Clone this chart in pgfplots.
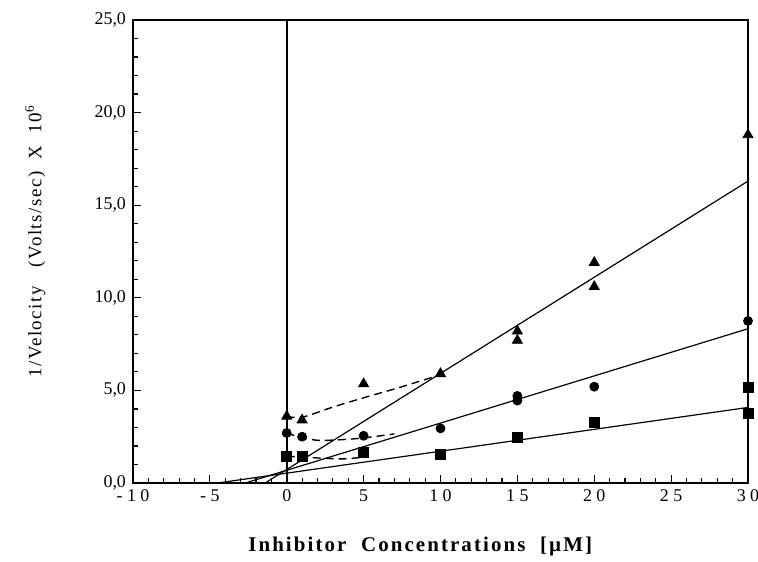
\documentclass[border=0pt]{standalone}
\usepackage{fontspec}
\setmainfont{Liberation Serif}
\usepackage{pgfplots}
\pgfplotsset{compat=1.18}

\begin{document}
\begin{tikzpicture}
\begin{axis}[
  scale only axis,
  width=307.5bp, height=231.5bp,
  xmin=-10, xmax=30, ymin=0, ymax=25,
  xtick={-10,-5,...,30},
  xticklabels={- 1 0,- 5,0,5,1 0,1 5,2 0,2 5,3 0},
  minor x tick num=4,
  ytick={0,5,...,25},
  minor y tick num=4,
  tick pos=left,
  tick align=inside,
  major tick length=4bp, minor tick length=2.5bp,
  axis line style={line width=0.9pt},
  tick style={black, line width=0.6pt},
  tick label style={font=\fontsize{9}{10}\selectfont},
  yticklabel style={/pgf/number format/use comma, /pgf/number format/fixed,
    /pgf/number format/fixed zerofill, /pgf/number format/precision=1,
    /pgf/number format/assume math mode=true},
  xlabel={\bfseries\addfontfeatures{LetterSpace=10}Inhibitor\ \ Concentrations\ \ [µM]},
  xlabel style={font=\fontsize{10.5}{12}\selectfont, at={(axis description cs:0.467,-0.138)}, anchor=center},
  ylabel={\addfontfeatures{LetterSpace=8}1/Velocity\ \ \ (Volts/sec)\ \ X\ \ 10\textsuperscript{6}},
  ylabel style={font=\fontsize{9.5}{11}\selectfont, at={(axis description cs:-0.159,0.522)}, anchor=center},
  clip=false,
]
% vertical line at x = 0
\addplot[black, line width=1pt] coordinates {(0,0) (0,25)};

% regression lines
\addplot[black, line width=0.6pt] coordinates {(-1.4,0) (30,16.3)};
\addplot[black, line width=0.6pt] coordinates {(-2.7,0) (30,8.33)};
\addplot[black, line width=0.6pt] coordinates {(-4.5,0) (30,4.08)};

% dashed curves at low concentrations
\addplot[black, line width=0.7pt, dash pattern=on 4bp off 2.5bp, smooth] coordinates {
  (0,3.6) (1,3.55) (3,4.1) (5,4.6) (7.5,5.2) (10,5.85)};
\addplot[black, line width=0.7pt, dash pattern=on 4bp off 2.5bp, smooth] coordinates {
  (0,2.7) (1,2.45) (2.2,2.3) (4.6,2.4) (7,2.65)};
\addplot[black, line width=0.7pt, dash pattern=on 4bp off 2.5bp, smooth] coordinates {
  (0,1.45) (1,1.4) (3.5,1.3) (5,1.4)};

% triangles
\addplot[only marks, mark=triangle*, mark size=2.9bp, black] coordinates {
  (0,3.6) (1,3.4) (5,5.35) (10,5.9) (15,8.2) (15,7.7) (20,11.9) (20,10.6) (30,18.8)};
% circles
\addplot[only marks, mark=*, mark size=2.25bp, black] coordinates {
  (0,2.7) (1,2.5) (5,2.55) (10,2.95) (15,4.7) (15,4.45) (20,5.2) (30,8.75)};
% squares
\addplot[only marks, mark=square*, mark size=2.5bp, black] coordinates {
  (0,1.45) (1,1.45) (5,1.65) (10,1.55) (15,2.47) (20,3.28) (30,5.16) (30,3.76)};
\end{axis}
\pgfresetboundingbox
\path ([xshift=-66.5bp,yshift=-39.5bp]current axis.south west) rectangle ([xshift=5bp,yshift=10bp]current axis.north east);
\end{tikzpicture}
\end{document}
